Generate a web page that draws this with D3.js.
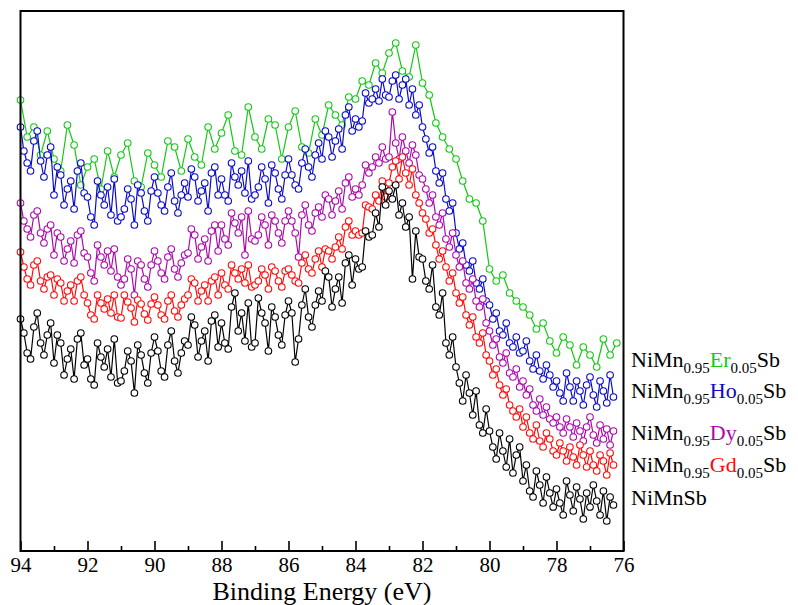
<!DOCTYPE html>
<html>
<head>
<meta charset="utf-8">
<script src="https://cdn.jsdelivr.net/npm/d3@7"></script>
<style>
  body { margin: 0; background: #fff; }
</style>
</head>
<body>
<div id="chart"></div>
<script>
//
// XPS spectra, NiMn(0.95)R(0.05)Sb series
//

// energy grid of the dense scans (eV), first value and step
var eStart = 94.0;
var eStep = 0.1;
// green scan was taken with a coarser step
var eStepEr = 0.2;

// x axis ticks
var majorTicks = [94, 92, 90, 88, 86, 84, 82, 80, 78, 76];
var minorTicks = [93, 91, 89, 87, 85, 83, 81, 79, 77];

// intensities (arb. units)
var niMnSb = [
  232, 218, 198, 192, 224, 238, 208, 196, 216, 228,
  188, 216, 208, 176, 192, 202, 172, 212, 218, 186,
  192, 172, 166, 208, 194, 184, 202, 174, 212, 168,
  170, 180, 200, 190, 158, 206, 196, 178, 168, 198,
  214, 200, 180, 174, 206, 220, 190, 178, 198, 210,
  206, 234, 226, 194, 210, 220, 190, 230, 236, 204,
  228, 208, 202, 244, 258, 220, 238, 210, 248, 204,
  208, 253, 238, 228, 200, 244, 234, 216, 206, 236,
  250, 238, 189, 212, 246, 262, 234, 224, 246, 260,
  250, 280, 274, 244, 262, 274, 248, 288, 296, 266,
  292, 282, 284, 320, 314, 316, 338, 324, 364, 346,
  360, 352, 366, 336, 348, 324, 334, 272, 320, 294,
  292, 270, 262, 286, 244, 236, 258, 208, 196, 214,
  184, 168, 150, 176, 158, 136, 160, 126, 118, 142,
  120, 104, 92, 118, 100, 84, 112, 78, 96, 104,
  70, 86, 60, 54, 80, 66, 48, 74, 58, 44,
  62, 48, 36, 70, 56, 40, 64, 52, 32, 58,
  44, 66, 50, 36, 60, 30, 54, 46
];

var gd = [
  299, 284, 272, 266, 286, 290, 270, 262, 274, 276,
  256, 272, 268, 250, 260, 266, 250, 270, 274, 256,
  248, 236, 232, 256, 248, 242, 252, 238, 256, 234,
  233, 256, 249, 243, 229, 251, 247, 237, 231, 247,
  254, 246, 236, 232, 250, 256, 240, 234, 246, 252,
  256, 272, 268, 250, 260, 266, 250, 270, 274, 256,
  278, 266, 262, 286, 278, 272, 282, 268, 286, 264,
  266, 270, 282, 276, 262, 284, 280, 270, 264, 280,
  282, 276, 270, 268, 288, 296, 282, 278, 292, 300,
  284, 302, 300, 292, 304, 314, 302, 324, 330, 316,
  320, 316, 318, 346, 344, 342, 356, 350, 370, 354,
  368, 384, 390, 372, 394, 378, 366, 382, 356, 348,
  338, 332, 318, 322, 306, 292, 300, 284, 270, 278,
  258, 248, 254, 236, 226, 234, 214, 208, 218, 196,
  190, 176, 182, 166, 156, 162, 146, 140, 134, 142,
  124, 134, 118, 112, 126, 110, 104, 118, 112, 100,
  96, 108, 100, 90, 104, 94, 86, 106, 96, 84,
  100, 86, 80, 96, 90, 76, 98, 86
];

var dy = [
  348, 330, 322, 314, 336, 340, 318, 308, 322, 326,
  296, 318, 314, 290, 302, 310, 288, 316, 320, 298,
  294, 278, 270, 306, 294, 286, 300, 280, 302, 274,
  266, 272, 292, 282, 256, 290, 286, 272, 264, 286,
  300, 290, 278, 272, 294, 302, 282, 274, 288, 296,
  298, 322, 316, 292, 304, 312, 290, 320, 326, 300,
  326, 312, 306, 338, 328, 318, 334, 296, 340, 312,
  310, 316, 334, 326, 306, 336, 330, 318, 308, 330,
  340, 330, 318, 294, 336, 346, 326, 320, 338, 344,
  334, 356, 352, 336, 350, 360, 342, 368, 374, 354,
  362, 356, 366, 386, 378, 384, 394, 388, 404, 392,
  394, 439, 408, 392, 414, 400, 388, 406, 396, 376,
  372, 362, 348, 356, 334, 326, 338, 312, 304, 318,
  296, 284, 290, 268, 262, 272, 250, 244, 252, 228,
  220, 206, 212, 194, 188, 198, 178, 174, 182, 164,
  170, 156, 162, 146, 140, 152, 136, 144, 132, 128,
  134, 124, 118, 132, 124, 114, 128, 120, 110, 124,
  134, 116, 108, 126, 112, 122, 106, 120
];

var ho = [
  424, 400, 388, 380, 410, 420, 390, 374, 396, 404,
  356, 384, 376, 346, 362, 370, 342, 380, 388, 358,
  354, 334, 326, 370, 356, 346, 364, 336, 372, 330,
  334, 342, 362, 352, 326, 366, 358, 340, 330, 360,
  374, 358, 346, 340, 364, 378, 350, 338, 356, 368,
  354, 382, 374, 350, 360, 368, 340, 378, 384, 356,
  372, 356, 350, 388, 374, 366, 380, 358, 390, 352,
  356, 364, 384, 372, 348, 386, 378, 362, 352, 376,
  392, 376, 366, 362, 388, 402, 384, 374, 396, 408,
  392, 420, 414, 394, 410, 422, 402, 436, 444, 420,
  432, 424, 430, 458, 448, 452, 462, 450, 472, 456,
  454, 470, 476, 452, 466, 472, 446, 462, 436, 446,
  424, 412, 398, 404, 380, 368, 378, 352, 340, 348,
  318, 302, 308, 286, 280, 290, 268, 262, 272, 250,
  246, 232, 238, 220, 216, 228, 208, 204, 214, 198,
  200, 210, 190, 182, 196, 180, 172, 186, 176, 164,
  170, 158, 150, 178, 164, 150, 170, 160, 146, 166,
  174, 156, 144, 170, 160, 148, 176, 154
];

var er = [
  451, 414, 424, 396, 420, 392, 380, 426, 406, 366,
  384, 392, 362, 400, 374, 396, 408, 370, 364, 398,
  386, 374, 410, 404, 380, 412, 394, 386, 424, 402,
  418, 436, 400, 396, 444, 414, 402, 432, 426, 392,
  424, 440, 404, 398, 432, 416, 446, 436, 426, 454,
  452, 470, 466, 488, 478, 498, 508, 480, 474, 506,
  468, 456, 428, 414, 402, 392, 370, 352, 348, 330,
  282, 270, 276, 258, 250, 244, 236, 222, 228, 210,
  198, 214, 206, 186, 204, 196, 184, 212, 196, 208
];

// series, drawn back to front
var series = [
  { name: 'Er', color: '#14c814', values: er, step: eStepEr },
  { name: 'Ho', color: '#0a0ac8', values: ho, step: eStep },
  { name: 'Dy', color: '#aa0aaa', values: dy, step: eStep },
  { name: 'Gd', color: '#ff0a0a', values: gd, step: eStep },
  { name: '',   color: '#000000', values: niMnSb, step: eStep }
];

// labels at the right, top to bottom
var labels = [
  { el: 'Er', color: '#14c814', y: 367 },
  { el: 'Ho', color: '#0a0ac8', y: 398 },
  { el: 'Dy', color: '#aa0aaa', y: 440 },
  { el: 'Gd', color: '#ff0a0a', y: 472 },
  { el: '',   color: '#000000', y: 505 }
];

var FONT = '"Liberation Serif", "Times New Roman", Times, "DejaVu Serif", serif';

// canvas size and plot box
var W = 798, H = 605;
var plotL = 20.5, plotR = 623.5, plotT = 11, plotB = 551;

var svg = d3.select('#chart').append('svg')
  .attr('width', W)
  .attr('height', H)
  .style('font-family', FONT);

var x = d3.scaleLinear().domain([94, 76]).range([plotL, plotR]);
var y = d3.scaleLinear().domain([0, 540]).range([plotB, plotT]);

// draw spectra
series.forEach(function (s) {
  var pts = s.values.map(function (v, i) {
    return { e: eStart - s.step * i, v: v };
  });
  var line = d3.line()
    .x(function (d) { return x(d.e); })
    .y(function (d) { return y(d.v); });

  var g = svg.append('g');
  g.append('path')
    .datum(pts)
    .attr('d', line)
    .attr('fill', 'none')
    .attr('stroke', s.color)
    .attr('stroke-width', 1.2);

  g.selectAll('circle').data(pts)
    .enter().append('circle')
    .attr('cx', function (d) { return x(d.e); })
    .attr('cy', function (d) { return y(d.v); })
    .attr('r', 3.3)
    .attr('fill', '#fff')
    .attr('stroke', s.color)
    .attr('stroke-width', 1.1);
});

// frame
svg.append('rect')
  .attr('x', plotL).attr('y', plotT)
  .attr('width', plotR - plotL).attr('height', plotB - plotT)
  .attr('fill', 'none')
  .attr('stroke', '#000')
  .attr('stroke-width', 2);

// bottom axis, ticks pointing inwards
var axis = svg.append('g').attr('transform', 'translate(0,' + plotB + ')');
axis.call(d3.axisBottom(x).tickValues(majorTicks).tickSize(-10).tickPadding(6)
  .tickFormat(d3.format('d')));
axis.attr('font-family', null).attr('font-size', null);
axis.select('.domain').remove();
axis.selectAll('.tick line').attr('stroke-width', 1.6);
axis.selectAll('.tick text')
  .style('font-family', FONT)
  .style('font-size', '21px')
  .attr('fill', '#000');

var minor = svg.append('g').attr('transform', 'translate(0,' + plotB + ')');
minor.call(d3.axisBottom(x).tickValues(minorTicks).tickSize(-5).tickFormat(''));
minor.select('.domain').remove();
minor.selectAll('.tick line').attr('stroke-width', 1.6);

// axis title
svg.append('text')
  .attr('x', (plotL + plotR) / 2)
  .attr('y', 600)
  .attr('text-anchor', 'middle')
  .style('font-family', FONT)
  .style('font-size', '26px')
  .text('Binding Energy (eV)');

// series labels
labels.forEach(function (l) {
  var t = svg.append('text')
    .attr('x', 631)
    .attr('y', l.y)
    .style('font-family', FONT)
    .style('font-size', '22px')
    .attr('fill', '#000');
  if (l.el === '') {
    t.text('NiMnSb');
    return;
  }
  t.append('tspan').text('NiMn');
  t.append('tspan').style('font-size', '15px').attr('dy', 6).text('0.95');
  t.append('tspan').attr('fill', l.color).attr('dy', -6).text(l.el);
  t.append('tspan').style('font-size', '15px').attr('dy', 6).text('0.05');
  t.append('tspan').attr('dy', -6).text('Sb');
});
</script>
</body>
</html>
